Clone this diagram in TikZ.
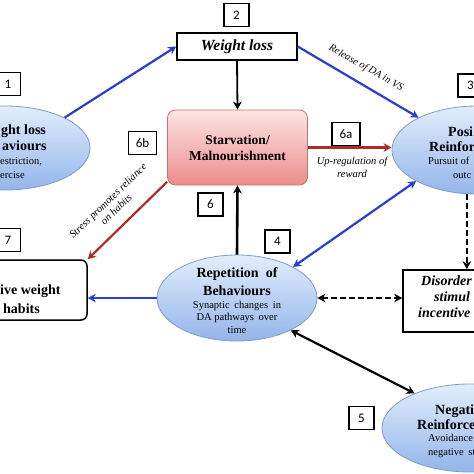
\documentclass[tikz,border=0pt]{standalone}
\usepackage{fontspec}
\setmainfont{Liberation Serif}
\newfontfamily\numfont{Carlito}
\usetikzlibrary{shapes.geometric,arrows.meta}
\definecolor{arrblue}{HTML}{2A3FD0}
\definecolor{arrred}{HTML}{B02A2A}
\definecolor{ovaltop}{HTML}{E2EDFC}
\definecolor{ovalbot}{HTML}{93B5EA}
\definecolor{ovalborder}{HTML}{7F9CC8}
\definecolor{sttop}{HTML}{FDE4E4}
\definecolor{stbot}{HTML}{EC8C8C}
\definecolor{stborder}{HTML}{C47474}
\begin{document}
\begin{tikzpicture}[x=1pt,y=-1pt,
  lbl/.style={draw=black,line width=1.3pt,fill=white,minimum width=25pt,minimum height=23pt,inner sep=0pt,font=\numfont\fontsize{13}{13}\selectfont},
  oval/.style={ellipse,draw=ovalborder,line width=0.8pt,top color=ovaltop,bottom color=ovalbot,inner sep=0pt},
  plainbox/.style={draw=black,line width=1.5pt,fill=white,inner sep=0pt},
  starv/.style={draw=stborder,line width=0.8pt,rounded corners=8pt,top color=sttop,bottom color=stbot,inner sep=0pt,align=center,font=\bfseries\fontsize{13.5}{16}\selectfont},
  tb/.style={font=\bfseries\fontsize{14}{16}\selectfont,inner sep=0pt},
  tbi/.style={font=\bfseries\itshape\fontsize{14}{16}\selectfont,inner sep=0pt},
  tr/.style={font=\fontsize{10.5}{12}\selectfont,inner sep=0pt},
  barrow/.style={draw=arrblue,line width=2.2pt,-{Stealth[length=8pt,width=8.5pt,inset=2.5pt]}},
  rarrow/.style={draw=arrred,line width=2.2pt,-{Stealth[length=8pt,width=8.5pt,inset=2.5pt]}},
  karrow/.style={draw=black,line width=2.2pt,-{Stealth[length=8pt,width=8.5pt,inset=2.5pt]}},
  kdash/.style={draw=black,line width=2pt,dash pattern=on 6pt off 3pt}
]
\useasboundingbox (0,0) rectangle (474,474);
\fill[white] (0,0) rectangle (474,474);
\clip (0,0) rectangle (474,474);

% shapes
\node[oval,minimum width=170pt,minimum height=84pt] (e1) at (5,148) {};
\node[plainbox,minimum width=120pt,minimum height=27pt,font=\bfseries\itshape\fontsize{15.5}{17}\selectfont] (wl) at (237,46.5) {Weight loss};
\node[starv,minimum width=140pt,minimum height=75pt] (st) at (237.5,147.5) {Starvation/\\Malnourishment};
\node[oval,minimum width=170pt,minimum height=88pt] (pos) at (477,150) {};
\node[oval,minimum width=160pt,minimum height=86pt] (rep) at (237,298) {};
\node[oval,minimum width=176pt,minimum height=88pt] (neg) at (470,428) {};
\node[plainbox,rounded corners=6pt,minimum width=150pt,minimum height=60pt] (ex) at (12,290) {};
\node[plainbox,minimum width=160pt,minimum height=62pt] (dis) at (483,301) {};

% number labels
\node[lbl] (b1) at (8,84) {1};
\node[lbl] (b2) at (236.5,15) {2};
\node[lbl] (b3) at (470.5,85.5) {3};
\node[lbl] (b4) at (277.5,241.5) {4};
\node[lbl] (b5) at (361.5,418) {5};
\node[lbl] (b6) at (210.5,204.5) {6};
\node[lbl,minimum width=28pt] (b6a) at (346,134) {6a};
\node[lbl,minimum width=28pt] (b6b) at (142.5,143) {6b};
\node[lbl] (b7) at (8,240) {7};

% texts in shapes
\node[tb,anchor=base west] (e1a) at (1,134) {ght loss};
\node[tb,anchor=base west] (e1b) at (2,150) {aviours};
\node[tr,anchor=base west] (e1c) at (0,164) {estriction,};
\node[tr,anchor=base west] (e1d) at (0,178) {ercise};

\node[tb,anchor=base west] (p1) at (448,136) {Posi};
\node[tb,anchor=base west] (p2) at (429,151) {Reinfor};
\node[tr,anchor=base west] (p3) at (428,164) {Pursuit of};
\node[tr,anchor=base west] (p4) at (453,178) {outc};

\node[tb,anchor=base] (r1) at (237,277) {Repetition\hspace{0.5em}of};
\node[tb,anchor=base] (r2) at (237,295) {Behaviours};
\node[tr,anchor=base] (r3) at (237,308) {Synaptic\hspace{0.45em}changes\hspace{0.45em}in};
\node[tr,anchor=base] (r4) at (237,320.5) {DA pathways\hspace{0.45em}over};
\node[tr,anchor=base] (r5) at (237,333) {time};

\node[tb,anchor=base west] (n1) at (435,414) {Negati};
\node[tb,anchor=base west] (n2) at (417,429) {Reinforce};
\node[tr,anchor=base west] (n3) at (428,441) {Avoidance};
\node[tr,anchor=base west] (n4) at (428,455) {negative\hspace{0.45em}st};

\node[tb,anchor=base west] (x1) at (0,294) {ive weight};
\node[tb,anchor=base west] (x2) at (3,313) {habits};

\node[tbi,anchor=base west] (d1) at (421,285) {Disorder};
\node[tbi,anchor=base west] (d2) at (434,301) {stimul};
\node[tbi,anchor=base west] (d3) at (418,317) {incentive};

% connectors
\draw[barrow] (e1.27) -- (wl.west);
\draw[barrow] (wl.east) -- (pos.151);
\draw[karrow,line width=1.8pt] (wl.south) -- (st.north);
\draw[karrow,line width=2.6pt] (rep.north) -- (st.south);
\draw[rarrow] (st.east) -- (st.east -| pos.west);
\draw[rarrow] (st.206) -- (ex.north east);
\draw[barrow] (rep.west) -- (rep.west -| ex.east);
\draw[draw=arrblue,line width=2.2pt,{Stealth[length=8pt,width=8.5pt,inset=2.5pt]}-{Stealth[length=8pt,width=8.5pt,inset=2.5pt]}] (pos.207) -- (rep.29);
\draw[kdash,{Stealth[length=8pt,width=8.5pt,inset=2.5pt]}-{Stealth[length=8pt,width=8.5pt,inset=2.5pt]}] (rep.east) -- (rep.east -| dis.west);
\draw[kdash,-{Stealth[length=8pt,width=8.5pt,inset=2.5pt]}] (pos.257) -- (pos.257 |- dis.north);
\draw[draw=black,line width=2.2pt,{Stealth[length=8pt,width=8.5pt,inset=2.5pt]}-{Stealth[length=8pt,width=8.5pt,inset=2.5pt]}] (rep.-31) -- (neg.148);

% connector labels
\node[font=\itshape\fontsize{10.3}{11}\selectfont,rotate=-29.4] (rel) at (366,68) {Release of DA in VS};
\node[font=\itshape\fontsize{10.5}{13}\selectfont,align=center] (upr) at (352,167) {Up-regulation of\\reward};
\node[font=\itshape\fontsize{10.5}{12}\selectfont,align=center,rotate=44] (str) at (112,205) {Stress promotes reliance\\on habits};
\end{tikzpicture}
\end{document}
